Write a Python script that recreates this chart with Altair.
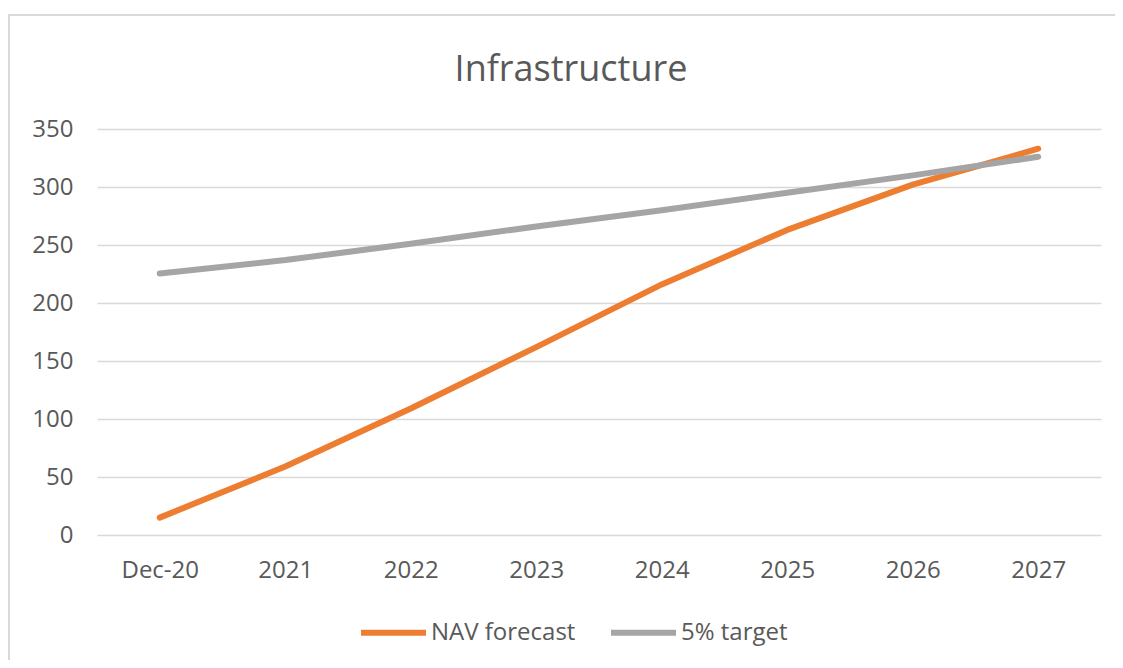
import altair as alt
import pandas as pd

periods = ["Dec-20", "2021", "2022", "2023", "2024", "2025", "2026", "2027"]
nav_forecast = [15, 59, 109, 162, 216, 263, 302, 333]
target_5pct = [225.5, 237, 251, 266, 280, 295, 310, 326]
series_names = ["NAV forecast", "5% target"]
series_colors = ["#ED7D31", "#A5A5A5"]

rows = []
for p, v in zip(periods, nav_forecast):
    rows.append({"period": p, "value": v, "series": series_names[0]})
for p, v in zip(periods, target_5pct):
    rows.append({"period": p, "value": v, "series": series_names[1]})
df = pd.DataFrame(rows)

FONT = "Open Sans"
TXT = "#595959"

lines = alt.Chart(df).mark_line(strokeWidth=6, strokeCap="round", strokeJoin="round").encode(
    x=alt.X("period:O", sort=periods, title=None,
            axis=alt.Axis(labelAngle=0, labelFontSize=24, labelFont=FONT, labelColor=TXT,
                          ticks=False, domain=False, grid=False, labelPadding=23)),
    y=alt.Y("value:Q", title=None, scale=alt.Scale(domain=[0, 350], nice=False),
            axis=alt.Axis(values=[0, 50, 100, 150, 200, 250, 300, 350], labelFontSize=24,
                          labelFont=FONT, labelColor=TXT, ticks=False, domain=False,
                          grid=True, gridColor="#D9D9D9", gridWidth=1.5, labelPadding=24)),
    color=alt.Color("series:N", sort=series_names,
                    scale=alt.Scale(domain=series_names, range=series_colors),
                    legend=alt.Legend(title=None, orient="none", direction="horizontal",
                                      legendX=261, legendY=468, symbolType="stroke",
                                      symbolSize=4225, symbolStrokeWidth=6,
                                      labelFontSize=24, labelFont=FONT, labelColor=TXT,
                                      columnPadding=23, labelOffset=2)),
)

frame = alt.Chart(pd.DataFrame({"a": [0]})).mark_rect(
    fill=None, stroke="#D9D9D9", strokeWidth=2
).encode(
    x=alt.value(-88), x2=alt.value(1100), y=alt.value(-114), y2=alt.value(700)
)

chart = alt.layer(frame, lines).properties(
    width=1004,
    height=406,
    background="white",
    title=alt.TitleParams("Infrastructure", fontSize=36, font=FONT, fontWeight="normal",
                          color=TXT, anchor="middle", dx=-28, offset=0, dy=75),
    autosize=alt.AutoSizeParams(type="none"),
    padding={"left": 89, "top": 121, "right": 14, "bottom": 125},
).configure_view(stroke=None)

chart.save("out.html", embed_options={"renderer": "svg", "actions": False})
